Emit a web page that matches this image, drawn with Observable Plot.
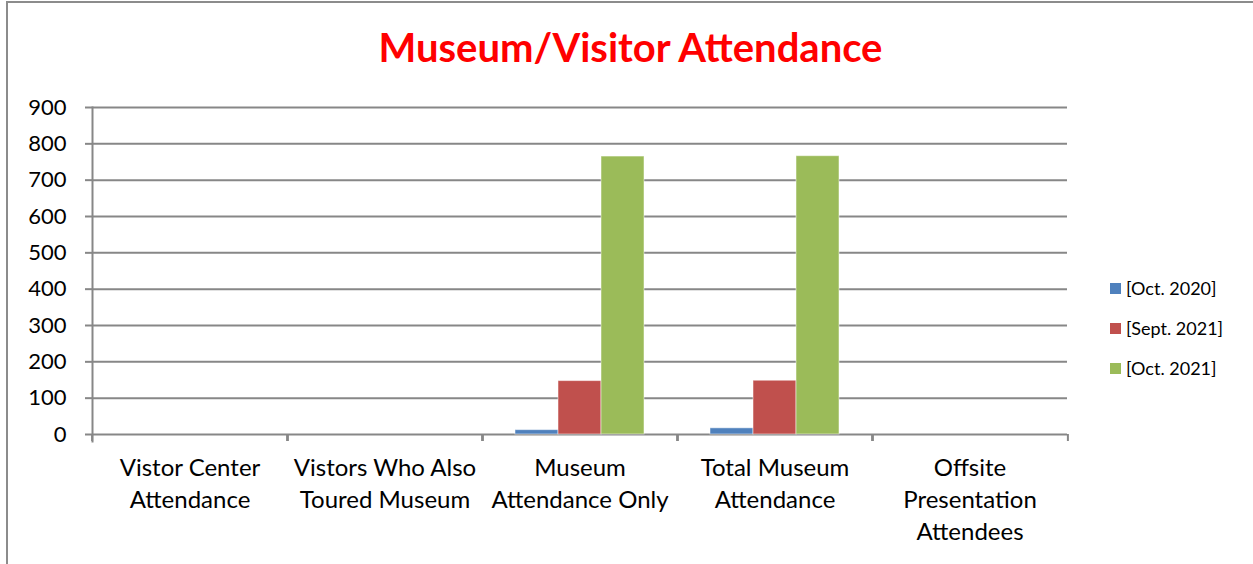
<!DOCTYPE html>
<html>
<head>
<meta charset="utf-8">
<script src="https://cdn.jsdelivr.net/npm/d3@7"></script>
<script src="https://cdn.jsdelivr.net/npm/@observablehq/plot@0.6"></script>
<style>
  html, body { margin: 0; padding: 0; background: #fff; }
  #chart { position: relative; width: 1253px; height: 564px; overflow: hidden; font-family: Lato, "Open Sans", sans-serif; }
  #borderL { position: absolute; left: 6px; top: 1px; width: 2px; height: 600px; background: #8c8c8c; }
  #borderT { position: absolute; left: 6px; top: 1px; width: 1300px; height: 2px; background: #8c8c8c; }
  #title { position: absolute; left: 8px; width: 1245px; top: 23px; text-align: center; color: #ff0000; font-weight: bold; font-size: 40px; line-height: 1.2; }
  #plot { position: absolute; left: 0; top: 0; }
  #legend { position: absolute; left: 1110px; top: 268px; font-size: 18px; color: #000; }
  .item { display: flex; align-items: center; height: 40px; }
  .sw { width: 11px; height: 11px; margin-right: 5px; }
</style>
</head>
<body>
<div id="chart">
  <div id="borderL"></div>
  <div id="borderT"></div>
  <div id="title">Museum/Visitor Attendance</div>
  <div id="plot"></div>
  <div id="legend"></div>
</div>
<script>
// ---- data ----
const categories = ["Vistor Center Attendance", "Vistors Who Also Toured Museum", "Museum Attendance Only", "Total Museum Attendance", "Offsite Presentation Attendees"];
const categoryLabels = ["Vistor Center\nAttendance", "Vistors Who Also\nToured Museum", "Museum\nAttendance Only", "Total Museum\nAttendance", "Offsite\nPresentation\nAttendees"];
const series = ["[Oct. 2020]", "[Sept. 2021]", "[Oct. 2021]"];
const oct2020 = [0, 0, 12, 17, 0];
const sept2021 = [0, 0, 147, 148, 0];
const oct2021 = [0, 0, 765, 766, 0];
const yTicks = [0, 100, 200, 300, 400, 500, 600, 700, 800, 900];
const colors = ["#4f81bd", "#c0504d", "#9bbb59"];

const seriesValues = [oct2020, sept2021, oct2021];
const data = [];
categories.forEach((c, i) => series.forEach((s, j) => data.push({category: c, series: s, value: seriesValues[j][i]})));
const labelOf = new Map(categories.map((c, i) => [c, categoryLabels[i]]));

const W = 1253, H = 564, mL = 90, mR = 184, mT = 107, mB = 130;
const step = (W - mL - mR) / categories.length;
const gridColor = "#878787";

const chart = Plot.plot({
  width: W, height: H,
  marginTop: mT, marginBottom: mB, marginLeft: mL, marginRight: mR,
  style: {fontFamily: "Lato, 'Open Sans', sans-serif", background: "transparent", color: "#000"},
  fx: {domain: categories, paddingInner: 0, paddingOuter: 0, axis: null, label: null},
  x: {domain: series, paddingInner: 0, paddingOuter: 0.75, axis: null, label: null},
  y: {domain: [0, 900], axis: null, label: null},
  color: {domain: series, range: colors},
  marks: [
    Plot.gridY(yTicks, {stroke: gridColor, strokeOpacity: 1, strokeWidth: 2}),
    Plot.barY(data, {fx: "category", x: "series", y: "value", fill: "series", stroke: "#ffffff", strokeOpacity: 0.5, strokeWidth: 1}),
    Plot.frame({anchor: "left", facetAnchor: "left", stroke: gridColor, strokeWidth: 2, insetBottom: -7}),
    Plot.axisY(yTicks, {anchor: "left", label: null, tickSize: 7, tickPadding: 19, stroke: gridColor, strokeWidth: 2, fontSize: 22, tickFormat: d => String(d), color: "#000"}),
    Plot.axisFx({anchor: "bottom", label: null, tickSize: 7, tickFormat: () => "", dx: -step / 2, stroke: gridColor, strokeWidth: 2}),
    Plot.axisFx({anchor: "bottom", label: null, tickSize: 7, tickFormat: () => "", dx: step / 2, stroke: gridColor, strokeWidth: 2}),
    Plot.axisFx({anchor: "bottom", label: null, tickSize: 0, tickPadding: 18, fontSize: 24, lineHeight: 1.35, tickFormat: d => labelOf.get(d), color: "#000"})
  ]
});
document.getElementById("plot").appendChild(chart);

// legend
const legend = document.getElementById("legend");
series.forEach((s, j) => {
  const item = document.createElement("div");
  item.className = "item";
  const sw = document.createElement("div");
  sw.className = "sw";
  sw.style.background = colors[j];
  const t = document.createElement("span");
  t.textContent = s;
  item.appendChild(sw);
  item.appendChild(t);
  legend.appendChild(item);
});
</script>
</body>
</html>
